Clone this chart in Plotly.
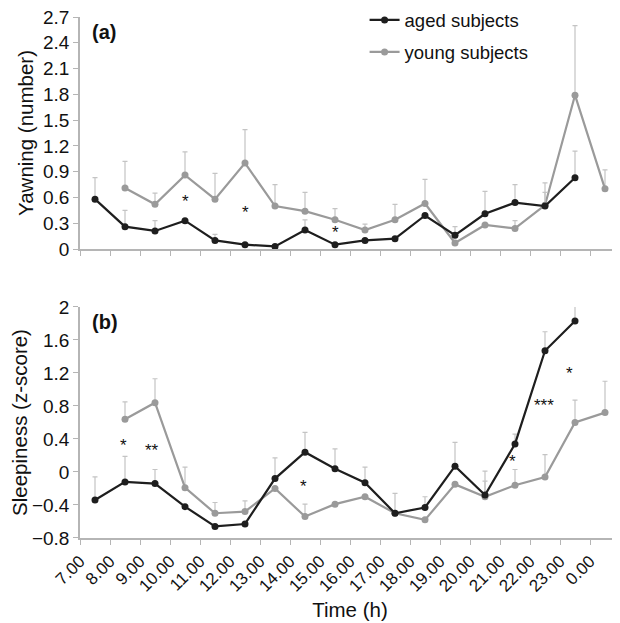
import plotly.graph_objects as go
from plotly.subplots import make_subplots

# ---- data ----
hours_aged = [7.5, 8.5, 9.5, 10.5, 11.5, 12.5, 13.5, 14.5, 15.5, 16.5, 17.5, 18.5, 19.5, 20.5, 21.5, 22.5, 23.5]
hours_young = [8.5, 9.5, 10.5, 11.5, 12.5, 13.5, 14.5, 15.5, 16.5, 17.5, 18.5, 19.5, 20.5, 21.5, 22.5, 23.5, 24.5]

yawn_aged = [0.58, 0.26, 0.21, 0.33, 0.10, 0.05, 0.03, 0.22, 0.05, 0.10, 0.12, 0.39, 0.16, 0.41, 0.54, 0.50, 0.83]
yawn_aged_err = [0.25, 0.19, 0.12, 0.0, 0.07, 0.0, 0.0, 0.12, 0.0, 0.0, 0.0, 0.0, 0.10, 0.26, 0.21, 0.16, 0.31]
yawn_young = [0.71, 0.52, 0.86, 0.58, 1.00, 0.50, 0.44, 0.34, 0.22, 0.34, 0.53, 0.07, 0.28, 0.24, 0.51, 1.79, 0.70]
yawn_young_err = [0.31, 0.13, 0.27, 0.30, 0.39, 0.25, 0.22, 0.13, 0.07, 0.18, 0.28, 0.0, 0.0, 0.09, 0.26, 0.81, 0.22]

sleep_aged = [-0.34, -0.12, -0.14, -0.42, -0.66, -0.63, -0.08, 0.24, 0.04, -0.13, -0.50, -0.43, 0.07, -0.28, 0.34, 1.47, 1.83]
sleep_aged_err = [0.28, 0.31, 0.17, 0.0, 0.0, 0.0, 0.25, 0.24, 0.24, 0.19, 0.24, 0.13, 0.29, 0.29, 0.12, 0.23, 0.34]
sleep_young = [0.64, 0.84, -0.19, -0.50, -0.48, -0.20, -0.54, -0.39, -0.30, -0.50, -0.58, -0.15, -0.30, -0.16, -0.06, 0.60, 0.72]
sleep_young_err = [0.21, 0.29, 0.25, 0.13, 0.13, 0.0, 0.15, 0.0, 0.0, 0.0, 0.0, 0.0, 0.19, 0.19, 0.27, 0.27, 0.38]

x_tick_vals = list(range(7, 25))
x_tick_text = ["7.00", "8.00", "9.00", "10.00", "11.00", "12.00", "13.00", "14.00", "15.00",
               "16.00", "17.00", "18.00", "19.00", "20.00", "21.00", "22.00", "23.00", "0.00"]
yawn_ticks = [0, 0.3, 0.6, 0.9, 1.2, 1.5, 1.8, 2.1, 2.4, 2.7]
yawn_tick_text = ["0", "0.3", "0.6", "0.9", "1.2", "1.5", "1.8", "2.1", "2.4", "2.7"]
sleep_ticks = [-0.8, -0.4, 0, 0.4, 0.8, 1.2, 1.6, 2.0]
sleep_tick_text = ["\u22120.8", "\u22120.4", "0", "0.4", "0.8", "1.2", "1.6", "2"]

stars_a_x = [10.5, 12.5, 15.5]
stars_a_y = [0.55, 0.42, 0.19]
stars_a_text = ["*", "*", "*"]
stars_b_x = [8.45, 9.4, 14.45, 21.4, 22.45, 23.3]
stars_b_y = [0.32, 0.26, -0.18, 0.13, 0.81, 1.19]
stars_b_text = ["*", "**", "*", "*", "***", "*"]

AGED = "#1e1e1e"
YOUNG = "#9a9a9a"
ERR = "#c4c4c4"
TXT = "#111111"
FONT = "Liberation Sans, Arial, sans-serif"

fig = make_subplots(rows=2, cols=1, shared_xaxes=False, vertical_spacing=0.111)

def add(row, x, y, err, color, name, show, rank):
    fig.add_trace(go.Scatter(
        x=x, y=y, mode="lines+markers", name=name, showlegend=show,
        legendgroup=name, legendrank=rank, cliponaxis=False,
        line=dict(color=color, width=2.2),
        marker=dict(color=color, size=7),
        error_y=dict(type="data", array=err, arrayminus=[0] * len(err), symmetric=False,
                     color=ERR, thickness=1.2, width=2.5),
    ), row=row, col=1)

add(1, hours_young, yawn_young, yawn_young_err, YOUNG, "young subjects", True, 2)
add(1, hours_aged, yawn_aged, yawn_aged_err, AGED, "aged subjects", True, 1)
add(2, hours_young, sleep_young, sleep_young_err, YOUNG, "young subjects", False, 2)
add(2, hours_aged, sleep_aged, sleep_aged_err, AGED, "aged subjects", False, 1)

for sx, sy, st in zip(stars_a_x, stars_a_y, stars_a_text):
    fig.add_annotation(x=sx, y=sy, text=st, showarrow=False, xref="x", yref="y",
                       font=dict(size=17, color=TXT, family=FONT))
for sx, sy, st in zip(stars_b_x, stars_b_y, stars_b_text):
    fig.add_annotation(x=sx, y=sy, text=st, showarrow=False, xref="x2", yref="y2",
                       font=dict(size=17, color=TXT, family=FONT))

fig.add_annotation(x=0.018, y=0.935, xref="x domain", yref="y domain", text="<b>(a)</b>",
                   showarrow=False, xanchor="left", yanchor="middle",
                   font=dict(size=20, color=TXT, family=FONT))
fig.add_annotation(x=0.018, y=0.935, xref="x2 domain", yref="y2 domain", text="<b>(b)</b>",
                   showarrow=False, xanchor="left", yanchor="middle",
                   font=dict(size=20, color=TXT, family=FONT))

axis_common = dict(showgrid=False, zeroline=False, showline=True, linecolor="#b5b5b5",
                   linewidth=1.5, ticks="outside", tickcolor="#b5b5b5", ticklen=5,
                   automargin=False, ticklabeloverflow="allow",
                   tickfont=dict(size=19, color=TXT, family=FONT))

fig.update_xaxes(range=[7, 25], tickvals=x_tick_vals, **axis_common)
fig.update_xaxes(showticklabels=False, row=1, col=1)
fig.update_xaxes(ticktext=x_tick_text, tickangle=-45, row=2, col=1,
                 tickfont=dict(size=17, color=TXT, family=FONT),
                 title=dict(text="Time (h)", font=dict(size=20.5, color=TXT, family=FONT), standoff=8))
fig.update_yaxes(**axis_common)
fig.update_yaxes(range=[0, 2.7], tickvals=yawn_ticks, ticktext=yawn_tick_text, row=1, col=1,
                 title=dict(text="Yawning (number)", font=dict(size=20.5, color=TXT, family=FONT), standoff=4))
fig.update_yaxes(range=[-0.8, 2.0], tickvals=sleep_ticks, ticktext=sleep_tick_text, row=2, col=1,
                 title=dict(text="Sleepiness (z-score)", font=dict(size=20.5, color=TXT, family=FONT), standoff=4))

# page body has an 8px default margin, so the figure is sized to fit the window
fig.update_layout(
    width=612, height=615,
    margin=dict(l=72, r=0, t=9, b=85, autoexpand=False),
    plot_bgcolor="white", paper_bgcolor="white",
    font=dict(family=FONT, color=TXT),
    legend=dict(x=0.527, y=1.03, xanchor="left", yanchor="top", traceorder="grouped",
                tracegroupgap=5, bgcolor="rgba(0,0,0,0)",
                font=dict(size=18.5, color=TXT, family=FONT)),
)
fig.layout.yaxis.domain = [0.5547, 1.0]
fig.layout.yaxis2.domain = [0.0, 0.4434]

fig.write_html("out.html")
